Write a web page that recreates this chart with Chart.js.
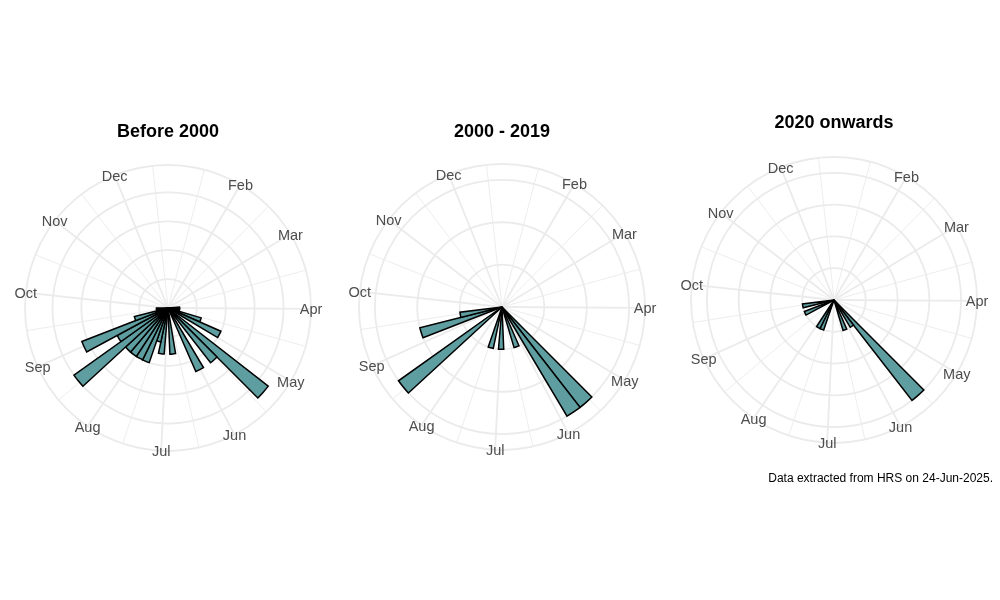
<!DOCTYPE html>
<html>
<head>
<meta charset="utf-8">
<script src="https://cdn.jsdelivr.net/npm/chart.js@4.4.1/dist/chart.umd.min.js"></script>
<style>
  html, body { margin: 0; padding: 0; background: #fff; }
  #wrap { position: relative; width: 1000px; height: 600px; overflow: hidden; }
  canvas { position: absolute; }
</style>
</head>
<body>
<div id="wrap">
  <canvas id="panel1" width="340" height="400"></canvas>
  <canvas id="panel2" width="340" height="400"></canvas>
  <canvas id="panel3" width="340" height="400"></canvas>
</div>
<script>
// Month axis (day of year where each month starts, plus next Jan 1)
const MONTHS = ["Jan", "Feb", "Mar", "Apr", "May", "Jun", "Jul", "Aug", "Sep", "Oct", "Nov", "Dec"];
const MONTH_START_DAYS = [1, 32, 60, 91, 121, 152, 182, 213, 244, 274, 305, 335, 366];

// Theta range of the plots (day of year) and weekly bins
const DAY_MIN = 2;
const DAY_MAX = 356.6;
const BIN_DAYS = 7;
const BIN_LABELS = ["W1", "W2", "W3", "W4", "W5", "W6", "W7", "W8", "W9", "W10",
  "W11", "W12", "W13", "W14", "W15", "W16", "W17", "W18", "W19", "W20",
  "W21", "W22", "W23", "W24", "W25", "W26", "W27", "W28", "W29", "W30",
  "W31", "W32", "W33", "W34", "W35", "W36", "W37", "W38", "W39", "W40",
  "W41", "W42", "W43", "W44", "W45", "W46", "W47", "W48", "W49", "W50", "W51"];

// Counts per week, one array per period
const countsBefore2000 = [
  0, 0, 0, 0, 0, 0, 0, 0, 0, 0,
  0, 0, 1, 1, 1, 3, 5, 0, 11, 6,
  0, 6, 0, 0, 4, 0, 4, 3, 5, 5,
  5, 5, 10, 5, 8, 3, 1, 1, 0, 0,
  0, 0, 0, 0, 0, 0, 0, 0, 0, 0,
  0
];
const counts2000to2019 = [
  0, 0, 0, 0, 0, 0, 0, 0, 0, 0,
  0, 0, 0, 0, 0, 0, 0, 0, 0, 3,
  3, 0, 1, 0, 0, 1, 0, 1, 0, 0,
  0, 0, 3, 0, 0, 2, 1, 0, 0, 0,
  0, 0, 0, 0, 0, 0, 0, 0, 0, 0,
  0
];
const counts2020on = [
  0, 0, 0, 0, 0, 0, 0, 0, 0, 0,
  0, 0, 0, 0, 0, 0, 0, 0, 0, 4,
  1, 0, 1, 0, 0, 0, 0, 0, 1, 1,
  0, 0, 0, 0, 1, 0, 1, 0, 0, 0,
  0, 0, 0, 0, 0, 0, 0, 0, 0, 0,
  0
];

// Radial breaks and top of each radial scale
const breaksBefore2000 = [2.5, 5, 7.5, 10];
const breaks2000to2019 = [1, 2, 3];
const breaks2020on = [1, 2, 3, 4];
const rMaxBefore2000 = 11;
const rMax2000to2019 = 3;
const rMax2020on = 4;

const TITLES = ["Before 2000", "2000 - 2019", "2020 onwards"];
const CAPTION = "Data extracted from HRS on 24-Jun-2025.";

const FONT = "'Liberation Sans', Arial, sans-serif";
const BAR_FILL = "#5F9EA0";
const GRID_COLOUR = "#EBEBEB";
const OUTER_RATIO = 0.45 / 0.4;   // outer ring sits beyond the data limit, as in ggplot polar

const BIN_ANGLE = BIN_DAYS / (DAY_MAX - DAY_MIN) * 360;

function thetaOfDay(day) {
  return (day - DAY_MIN) / (DAY_MAX - DAY_MIN) * 360;
}

// Point on the circle, angle clockwise from 12 o'clock
function polarPoint(scale, deg, r) {
  const a = deg * Math.PI / 180;
  return { x: scale.xCenter + r * Math.sin(a), y: scale.yCenter - r * Math.cos(a) };
}

// Month spokes, month labels and caption
const polarGuides = {
  id: "polarGuides",
  beforeDatasetsDraw(chart) {
    const scale = chart.scales.r;
    const ctx = chart.ctx;
    const outer = scale.getDistanceFromCenterForValue(scale.max);

    ctx.save();
    ctx.strokeStyle = GRID_COLOUR;

    // minor spokes half way between month starts
    ctx.lineWidth = 0.9;
    for (let i = 0; i < MONTH_START_DAYS.length - 1; i++) {
      const mid = (MONTH_START_DAYS[i] + MONTH_START_DAYS[i + 1]) / 2;
      const p = polarPoint(scale, thetaOfDay(mid), outer);
      ctx.beginPath();
      ctx.moveTo(scale.xCenter, scale.yCenter);
      ctx.lineTo(p.x, p.y);
      ctx.stroke();
    }

    // major spokes at month starts inside the theta range
    ctx.lineWidth = 1.8;
    MONTH_START_DAYS.slice(0, 12).forEach(day => {
      if (day < DAY_MIN || day > DAY_MAX) return;
      const p = polarPoint(scale, thetaOfDay(day), outer);
      ctx.beginPath();
      ctx.moveTo(scale.xCenter, scale.yCenter);
      ctx.lineTo(p.x, p.y);
      ctx.stroke();
    });
    ctx.restore();
  },
  afterDraw(chart, args, opts) {
    const scale = chart.scales.r;
    const ctx = chart.ctx;
    const outer = scale.getDistanceFromCenterForValue(scale.max);

    ctx.save();
    ctx.font = "14.5px " + FONT;
    ctx.fillStyle = "#4D4D4D";
    ctx.textAlign = "center";
    ctx.textBaseline = "middle";
    MONTHS.forEach((name, i) => {
      const day = MONTH_START_DAYS[i];
      if (day < DAY_MIN || day > DAY_MAX) return;
      const p = polarPoint(scale, thetaOfDay(day), outer);
      ctx.fillText(name, p.x, p.y + 1.5);
    });

    if (opts.caption) {
      ctx.font = "12px " + FONT;
      ctx.fillStyle = "#000";
      ctx.textAlign = "right";
      ctx.fillText(opts.caption, opts.captionX, opts.captionY);
    }
    ctx.restore();
  }
};

// Builds one rose panel; cx, cy are the page position of the circle centre
function buildPanel(id, title, counts, breaks, rMax, cx, cy, titleY, withCaption) {
  const canvas = document.getElementById(id);
  const left = cx - 170;
  const top = cy - 213;
  canvas.style.left = left + "px";
  canvas.style.top = top + "px";

  const titleLine = 18 * 1.2;
  const padTop = titleY - top - titleLine / 2;
  const padBottom = 70 - titleLine - padTop;

  return new Chart(canvas, {
    type: "polarArea",
    data: {
      labels: BIN_LABELS,
      datasets: [
        {
          label: title,
          data: counts,
          backgroundColor: BAR_FILL,
          borderColor: "#000000",
          borderWidth: 1.5,
          borderJoinStyle: "miter",
          angle: BIN_ANGLE
        }
      ]
    },
    options: {
      responsive: false,
      animation: false,
      layout: { padding: { left: 27, right: 27, top: 0, bottom: 44 } },
      plugins: {
        legend: { display: false },
        tooltip: { enabled: false },
        title: {
          display: true,
          text: title,
          color: "#000000",
          font: { family: FONT, size: 18, weight: "bold" },
          padding: { top: padTop, bottom: padBottom }
        },
        polarGuides: withCaption
          ? { caption: CAPTION, captionX: 993 - left, captionY: 479 - top }
          : {}
      },
      scales: {
        r: {
          min: 0,
          max: rMax * OUTER_RATIO,
          startAngle: 0,
          ticks: { display: false },
          grid: { color: GRID_COLOUR, lineWidth: 1.8, circular: true },
          angleLines: { display: false },
          pointLabels: { display: false },
          afterBuildTicks: scale => {
            scale.ticks = [0, ...breaks, scale.max].map(v => ({ value: v }));
          }
        }
      }
    },
    plugins: [polarGuides]
  });
}

buildPanel("panel1", TITLES[0], countsBefore2000, breaksBefore2000, rMaxBefore2000, 168, 308, 132, false);
buildPanel("panel2", TITLES[1], counts2000to2019, breaks2000to2019, rMax2000to2019, 502, 307, 132, false);
buildPanel("panel3", TITLES[2], counts2020on, breaks2020on, rMax2020on, 834, 300, 123, true);
</script>
</body>
</html>
